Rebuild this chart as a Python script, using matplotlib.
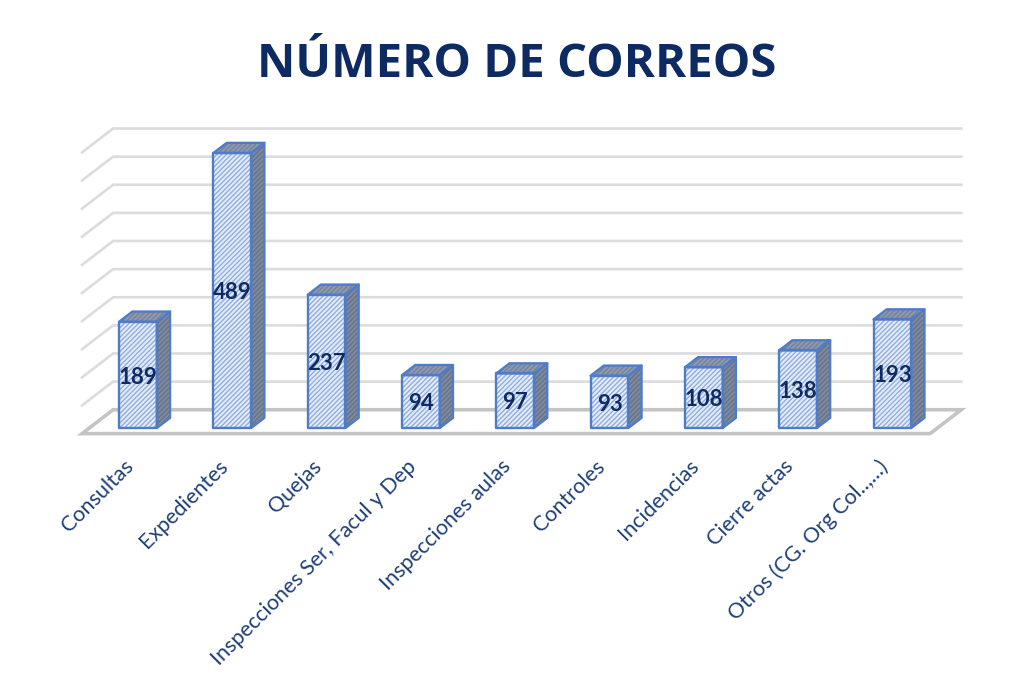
#!/usr/bin/env python3
"""Recreate the pseudo-3D bar chart of emails per category."""
import matplotlib
matplotlib.use('Agg')
import matplotlib.pyplot as plt
from matplotlib.patches import Polygon

categories = ['Consultas', 'Expedientes', 'Quejas', 'Inspecciones Ser, Facul y Dep',
              'Inspecciones aulas', 'Controles', 'Incidencias', 'Cierre actas',
              'Otros (CG. Org Col..,...)']
values = [189, 489, 237, 94, 97, 93, 108, 138, 193]
grid_values = [50, 100, 150, 200, 250, 300, 350, 400, 450, 500]

title = 'NÚMERO DE CORREOS'

NAVY = '#0d2a63'
BLUE = '#4f7cc9'
GRID = '#dcdcdc'
FLOOR = '#c4c4c4'

# bar shape, in data units (categories / values)
BAR_W = 0.40
DEPTH_X = 0.14
DEPTH_Y = 18

# wall and floor extents
FLOOR_LEFT, FLOOR_RIGHT = -0.594, 8.40
WALL_X, WALL_Y = 0.33, 42.5
FLOOR_FRONT = -10

plt.rcParams['font.family'] = ['Lato', 'DejaVu Sans']
plt.rcParams['hatch.linewidth'] = 1.0

fig = plt.figure(figsize=(10.14, 6.83), dpi=100)
ax = fig.add_axes([0, 0, 1, 1])
# one category = 94.3 px, one email = 0.5624 px
ax.set_xlim(-138 / 94.3, (1014 - 138) / 94.3)
ax.set_ylim(-(683 - 428) / 0.5624, 428 / 0.5624)
ax.axis('off')

# walls: grid lines run along the back and slant towards the viewer on the left
back = FLOOR_FRONT + WALL_Y
for v in grid_values:
    ax.plot([FLOOR_LEFT, FLOOR_LEFT + WALL_X, FLOOR_RIGHT + WALL_X],
            [v + FLOOR_FRONT, v + back, v + back],
            color=GRID, lw=1.9, solid_joinstyle='miter', zorder=1)

# floor
ax.add_patch(Polygon([(FLOOR_LEFT, FLOOR_FRONT), (FLOOR_RIGHT, FLOOR_FRONT),
                      (FLOOR_RIGHT + WALL_X, back), (FLOOR_LEFT + WALL_X, back)],
                     closed=True, facecolor='white', edgecolor=FLOOR, lw=2.6, zorder=2))

for i, v in enumerate(values):
    x0 = i - BAR_W / 2
    x1 = i + BAR_W / 2
    front = [(x0, 0), (x1, 0), (x1, v), (x0, v)]
    side = [(x1, 0), (x1 + DEPTH_X, DEPTH_Y), (x1 + DEPTH_X, v + DEPTH_Y), (x1, v)]
    top = [(x0, v), (x1, v), (x1 + DEPTH_X, v + DEPTH_Y), (x0 + DEPTH_X, v + DEPTH_Y)]

    ax.add_patch(Polygon(front, facecolor='#e6edf9', edgecolor='#8fade0', hatch='///////',
                         lw=0, zorder=3))
    ax.add_patch(Polygon(side, facecolor='#7f8a9e', edgecolor='#667288', hatch='///////',
                         lw=0, zorder=3))
    ax.add_patch(Polygon(top, facecolor='#8f9aae', edgecolor='#76829a', hatch='///////',
                         lw=0, zorder=3))
    for shape in (front, side, top):
        ax.add_patch(Polygon(shape, facecolor='none', edgecolor=BLUE, lw=1.7,
                             joinstyle='round', zorder=4))

    ax.text(i, v / 2 - 4, str(v), ha='center', va='center', fontsize=16,
            fontweight='bold', color=NAVY, zorder=5)
    ax.text(i - 0.16, -50, categories[i], rotation=45, rotation_mode='anchor',
            ha='right', va='top', fontsize=15.5, color='#1f3f77', zorder=5)

fig.text(0.51, 0.905, title, ha='center', va='center', fontsize=34,
         fontweight='bold', color='#0d2a63', family=['Open Sans', 'DejaVu Sans'])

fig.savefig('out.png', dpi=100, facecolor='white')
